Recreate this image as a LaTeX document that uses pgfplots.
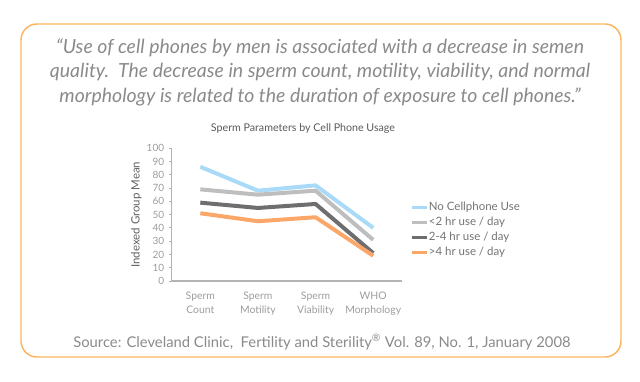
\documentclass[border=0pt]{standalone}
\usepackage{fontspec}
\setmainfont{Lato}
\usepackage{pgfplots}
\pgfplotsset{compat=1.18}
\definecolor{cblue}{HTML}{A9DAF7}
\definecolor{clgray}{HTML}{BEBEBE}
\definecolor{cdgray}{HTML}{6E6E6E}
\definecolor{corange}{HTML}{FBA76A}
\definecolor{cborder}{HTML}{F9B65E}
\definecolor{cquote}{HTML}{8A8A8A}
\definecolor{ctick}{HTML}{9C9C9C}
\definecolor{caxis}{HTML}{B4B4B4}
\begin{document}
\begin{tikzpicture}[x=0.75pt,y=0.75pt]
\useasboundingbox (0,0) rectangle (640,382);
\draw[color=cborder, line width=1.1pt, rounded corners=12pt] (21,25) rectangle (621,358);
\node[font=\itshape\fontsize{14.6}{18.4}\selectfont, text=cquote, align=center] at (320,310)
 {“Use of cell phones by men is associated with a decrease in semen\\
 quality.\ \ The decrease in sperm count, motility, viability, and normal\\
 morphology is related to the duration of exposure to cell phones.”};
\node[font=\fontsize{11.1}{12}\selectfont, text=cquote] at (322,40)
 {Source: Cleveland Clinic,\ \ Fertility and Sterility\textsuperscript{®} Vol. 89, No. 1, January 2008};
\node[font=\fontsize{8}{10}\selectfont, text=black!65] at (303,253) {Sperm Parameters by Cell Phone Usage};
\begin{axis}[
  at={(128.625pt,75.75pt)}, anchor=south west,
  scale only axis, width=172.9pt, height=99.6pt,
  xmin=-0.5, xmax=3.5, ymin=0, ymax=100,
  axis x line*=bottom, axis y line*=left,
  axis line style={caxis, line width=0.8pt, -},
  xtick={0,1,2,3},
  xticklabels={{Sperm\\Count},{Sperm\\Motility},{Sperm\\Viability},{WHO\\Morphology}},
  xticklabel style={align=center, font=\fontsize{7.8}{10}\selectfont, text=ctick, yshift=-3pt},
  x tick style={draw=none},
  ytick={0,10,...,100},
  yticklabel style={font=\fontsize{7.5}{9}\selectfont, text=ctick},
  /pgf/number format/assume math mode=true,
  y tick style={caxis, line width=0.6pt},
  tick align=outside, major tick length=2pt,
  ylabel={Indexed Group Mean},
  ylabel style={font=\fontsize{8.6}{10}\selectfont, text=black!62, yshift=-3pt},
  clip=false,
  legend style={at={(1.035,0.6)}, anchor=north west, draw=none, fill=none,
    font=\fontsize{8.6}{10}\selectfont, text=black!55, row sep=2.6pt, inner sep=0pt,
    nodes={inner sep=0.4pt}},
  legend cell align=left,
  legend image code/.code={\draw[line width=2.5pt] (0pt,0pt) -- (11pt,0pt);},
  every axis plot/.append style={line width=3pt, line join=round, no markers},
]
\addplot[cblue] coordinates {(0,86) (1,68) (2,72) (3,40)};
\addplot[clgray] coordinates {(0,69) (1,65) (2,68) (3,31)};
\addplot[cdgray] coordinates {(0,59) (1,55) (2,58) (3,21)};
\addplot[corange] coordinates {(0,51) (1,45) (2,48) (3,19)};
\legend{No Cellphone Use,<2 hr use / day,2-4 hr use / day,>4 hr use / day}
\end{axis}
\end{tikzpicture}
\end{document}
